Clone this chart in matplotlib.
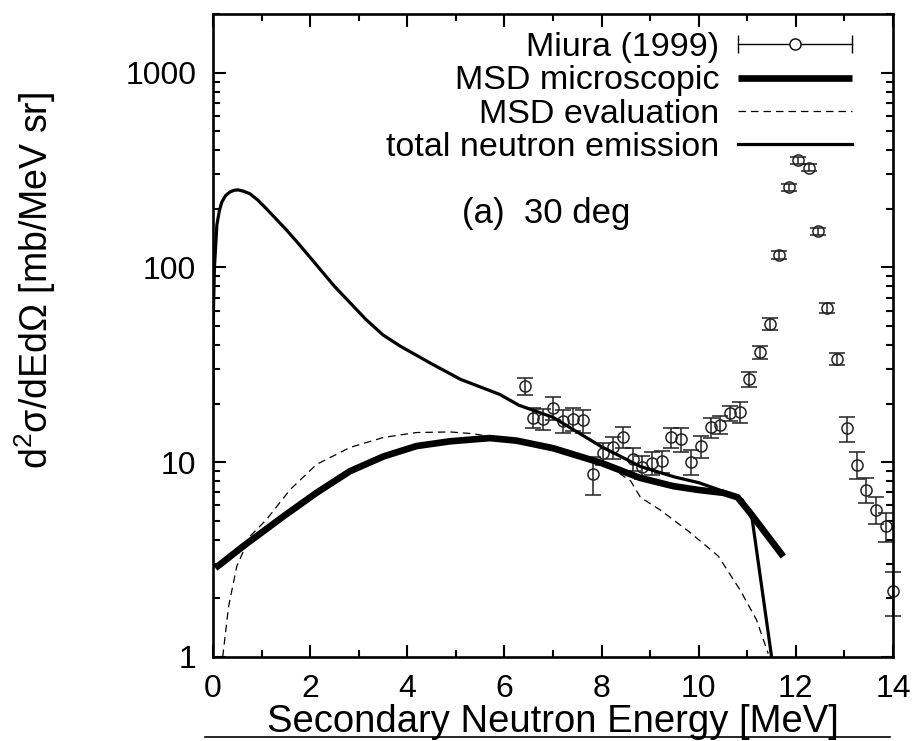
import matplotlib
matplotlib.use("Agg")
import matplotlib.pyplot as plt
from matplotlib.legend_handler import HandlerBase
from matplotlib.lines import Line2D

plt.rcParams['font.family'] = ['Liberation Sans', 'DejaVu Sans']
plt.rcParams['mathtext.fontset'] = 'custom'
plt.rcParams['mathtext.rm'] = 'Liberation Sans'

# total neutron emission
x_tot = [0.0, 0.01, 0.03, 0.08, 0.13, 0.18, 0.26, 0.35, 0.44, 0.52, 0.63, 0.76, 0.92,
         1.1, 1.5, 1.8, 2.5, 3.15, 3.5, 3.85, 4.5, 5.1, 5.9, 6.3, 7.0, 8.0, 8.8, 9.5,
         10.0, 10.5, 10.9, 11.1, 11.5]
y_tot = [20, 60, 100, 165, 195, 216, 234, 244, 249, 250, 246, 239, 222,
         200, 157, 129, 80, 54, 45, 39.5, 32, 26.6, 22.3, 19.6, 17, 12.0, 9.5, 8.4,
         7.85, 7.1, 6.4, 5.1, 1.0]

# MSD microscopic
x_mic = [0.05, 0.62, 1.45, 2.13, 2.82, 3.51, 4.19, 4.88, 5.7, 6.25, 7.0, 8.0, 8.79,
         9.48, 10.0, 10.51, 10.8, 11.06, 11.74]
y_mic = [2.86, 3.70, 5.27, 6.96, 8.99, 10.7, 12.1, 12.8, 13.3, 12.9, 11.8, 9.9, 8.31,
         7.53, 7.2, 6.96, 6.6, 5.49, 3.28]

# MSD evaluation
x_ev = [0.2, 0.32, 0.49, 0.76, 1.1, 1.59, 2.13, 2.82, 3.51, 4.19, 4.88, 5.36, 5.8,
        6.5, 7.5, 8.3, 8.6, 8.8, 9.2, 9.8, 10.4, 10.85, 11.19, 11.43]
y_ev = [1.0, 1.81, 2.92, 4.16, 5.07, 7.24, 9.73, 11.9, 13.4, 14.2, 14.3, 14.0, 13.4,
        12.4, 10.9, 9.0, 8.0, 6.6, 5.7, 4.4, 3.3, 2.21, 1.55, 1.04]

# Miura (1999)
x_exp = [6.42, 6.59, 6.80, 7.01, 7.21, 7.42, 7.62, 7.83, 8.02, 8.24, 8.44, 8.64, 8.83,
         9.03, 9.24, 9.43, 9.64, 9.84, 10.04, 10.25, 10.44, 10.64, 10.85, 11.04, 11.26,
         11.47, 11.66, 11.86, 12.05, 12.26, 12.45, 12.65, 12.85, 13.05, 13.25, 13.44,
         13.65, 13.85, 14.0]
y_exp = [24.6, 16.9, 16.7, 19.05, 16.3, 16.7, 16.4, 8.72, 11.1, 11.9, 13.5, 10.4, 9.47,
         9.93, 10.1, 13.4, 13.1, 10.05, 12.1, 15.1, 15.6, 17.8, 18.1, 26.7, 36.8,
         51.2, 116, 258, 354, 325, 153, 61.8, 34.0, 14.9, 9.73, 7.24,
         5.71, 4.68, 2.17]
e_exp = [2.6, 2.0, 2.0, 2.5, 2.2, 2.2, 2.2, 1.9, 1.4, 1.5, 1.7, 1.4, 1.3,
         1.3, 1.3, 1.6, 1.8, 1.5, 1.6, 1.8, 1.7, 1.6, 2.2, 2.4, 2.8,
         3.6, 6, 11, 14, 13, 7, 3.5, 2.4, 2.2, 1.5, 1.1,
         0.9, 0.8, 0.55]


class HandlerHBar(HandlerBase):
    # gnuplot style key: horizontal bar with end caps and a circle
    def create_artists(self, legend, orig_handle, xdescent, ydescent,
                       width, height, fontsize, trans):
        y = height / 2 - ydescent
        bar = Line2D([-xdescent, width - xdescent], [y, y], color='black', lw=1,
                     marker='|', markersize=13, markeredgewidth=1, transform=trans)
        dot = Line2D([width / 2 - xdescent], [y], color='black', marker='o',
                     markersize=8, markerfacecolor='white', markeredgewidth=1,
                     transform=trans)
        return [bar, dot]


fig = plt.figure(figsize=(9.24, 7.41), dpi=100)
ax = fig.add_axes([0.2305, 0.1134, 0.736, 0.8677])

exp = ax.errorbar(x_exp, y_exp, yerr=e_exp, fmt='o', color='#222222', ms=8,
                  mfc='none', mec='#222222', mew=1.1, elinewidth=1.1, capsize=6,
                  capthick=1.1, zorder=2, clip_on=False)
mic, = ax.plot(x_mic, y_mic, color='black', lw=4.8, solid_capstyle='butt', zorder=3)
ev, = ax.plot(x_ev, y_ev, color='black', lw=0.9, ls=(0, (6, 4)), zorder=3)
tot, = ax.plot(x_tot, y_tot, color='black', lw=2.3, zorder=4)

ax.set_yscale('log')
ax.set_xlim(0, 14)
ax.set_ylim(1, 2000)
ax.set_xticks(range(0, 15, 2))
ax.set_xticks(range(1, 14, 2), minor=True)
ax.set_yticks([1, 10, 100, 1000])
ax.set_yticklabels(['1', '10', '100', '1000'])

ax.tick_params(which='both', direction='in', top=True, right=True, labelsize=23,
               width=1.5)
ax.tick_params(which='major', length=9, pad=12)
ax.tick_params(which='minor', length=5)
for s in ax.spines.values():
    s.set_linewidth(1.9)

ax.set_xlabel('Secondary Neutron Energy [MeV]', fontsize=27.5, labelpad=0)
ax.set_ylabel(r'd$^\mathregular{2}$σ/dEdΩ [mb/MeV sr]', fontsize=27)
ax.yaxis.set_label_coords(-0.228, 0.586)

ax.text(6.85, 190, '(a)  30 deg', fontsize=25, ha='center', va='center')

ax.legend([exp, mic, ev, tot],
          ['Miura (1999)', 'MSD microscopic', 'MSD evaluation', 'total neutron emission'],
          handler_map={type(exp): HandlerHBar()},
          loc='upper right', frameon=False, markerfirst=False, fontsize=24.5,
          handlelength=3.35, handletextpad=0.55, labelspacing=0.07,
          borderaxespad=0.0, bbox_to_anchor=(0.96, 0.993))

fig.add_artist(Line2D([205 / 924, 890 / 924], [4 / 741, 4 / 741], color='black', lw=1.2))

fig.savefig('out.png', dpi=100)
